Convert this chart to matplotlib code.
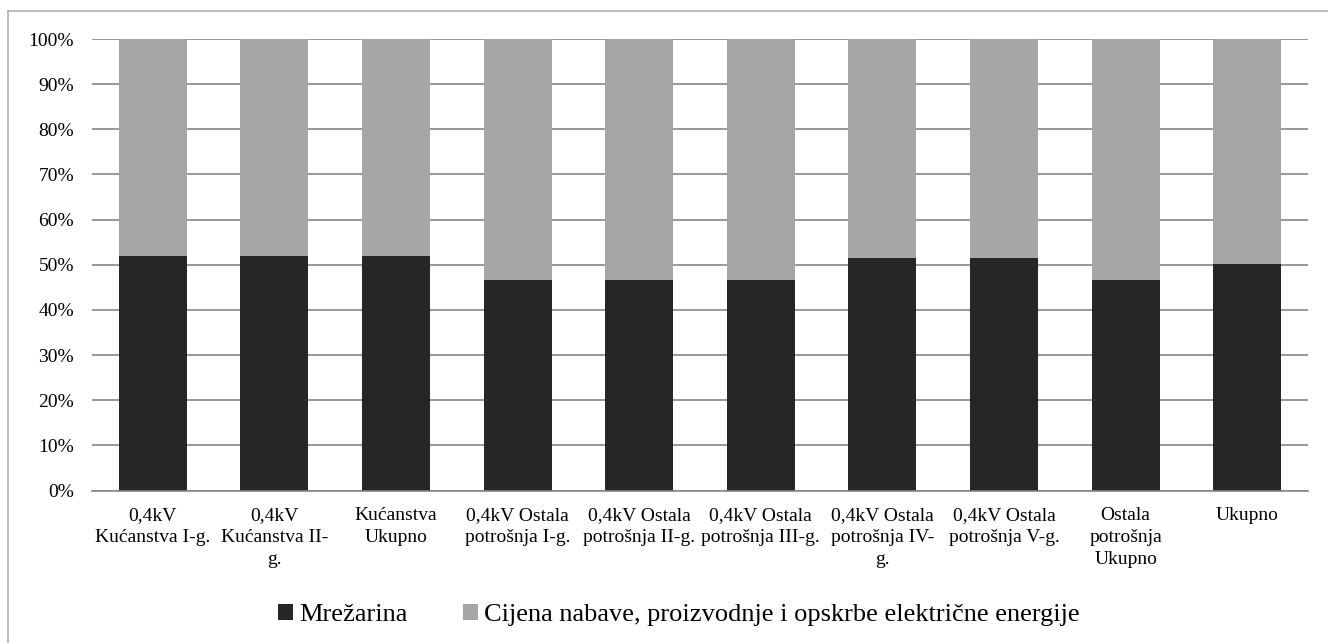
import matplotlib
matplotlib.use('Agg')
import matplotlib.pyplot as plt
from matplotlib.lines import Line2D
import numpy as np

plt.rcParams['font.family'] = ['Liberation Serif', 'DejaVu Serif']

categories = ['0,4kV\nKućanstva I-g.', '0,4kV\nKućanstva II-\ng.', 'Kućanstva\nUkupno',
              '0,4kV Ostala\npotrošnja I-g.', '0,4kV Ostala\npotrošnja II-g.',
              '0,4kV Ostala\npotrošnja III-g.', '0,4kV Ostala\npotrošnja IV-\ng.',
              '0,4kV Ostala\npotrošnja V-g.', 'Ostala\npotrošnja\nUkupno', 'Ukupno']
mrezarina = [51.9, 51.9, 51.9, 46.6, 46.6, 46.6, 51.5, 51.5, 46.6, 50.1]
cijena = [48.1, 48.1, 48.1, 53.4, 53.4, 53.4, 48.5, 48.5, 53.4, 49.9]
series_names = ['Mrežarina', 'Cijena nabave, proizvodnje i opskrbe električne energije']
colors = ['#262626', '#a6a6a6']

W, H = 1328, 643
fig = plt.figure(figsize=(W / 100, H / 100), dpi=100)
ax = fig.add_axes([92 / W, 1 - 490.5 / H, (1308 - 92) / W, (490.5 - 39) / H])

x = np.arange(len(categories))
ax.bar(x, mrezarina, width=0.56, color=colors[0], label=series_names[0], zorder=2)
ax.bar(x, cijena, width=0.56, bottom=mrezarina, color=colors[1], label=series_names[1], zorder=2)

ax.set_xlim(-0.5, len(categories) - 0.5)
ax.set_ylim(0, 100)
ax.set_yticks(np.arange(0, 101, 10))
ax.set_yticklabels([f'{v}%' for v in range(0, 101, 10)])
ax.set_xticks(x)
ax.set_xticklabels(categories, linespacing=1.38)
ax.tick_params(axis='y', length=0, pad=13, labelsize=14)
ax.tick_params(axis='x', length=0, pad=12, labelsize=14)
ax.yaxis.grid(True, color='#868686', linewidth=1.2, zorder=0)
ax.set_axisbelow(True)
for s in ['left', 'right', 'top']:
    ax.spines[s].set_visible(False)
ax.spines['bottom'].set_color('#868686')
ax.spines['bottom'].set_linewidth(1.2)

leg = fig.legend(loc='center', bbox_to_anchor=(679 / W, 1 - 615 / H), ncol=2, frameon=False,
                 fontsize=19, handlelength=0.55, handleheight=0.55, handletextpad=0.25,
                 columnspacing=2.1)

# chart border (only left and top edges fall inside the picture)
fig.add_artist(Line2D([8 / W, 8 / W], [0, 1 - 11 / H], transform=fig.transFigure, color='#b0b0b0', lw=1.2))
fig.add_artist(Line2D([8 / W, 1], [1 - 11 / H, 1 - 11 / H], transform=fig.transFigure, color='#b0b0b0', lw=1.2))

plt.savefig('out.png', dpi=100)
